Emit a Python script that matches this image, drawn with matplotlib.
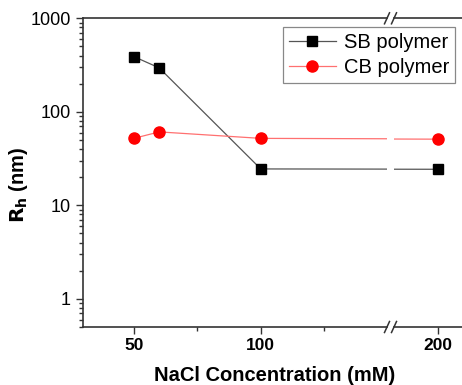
import matplotlib
matplotlib.use("Agg")
import matplotlib.pyplot as plt
from matplotlib.ticker import FixedLocator, LogLocator, NullFormatter, FixedFormatter
from matplotlib.lines import Line2D

plt.rcParams['font.family'] = ['Liberation Sans', 'DejaVu Sans']

# Données
nacl = [50, 60, 100, 200]
sb_rh = [390, 295, 24.5, 24.3]
sb_err = [30, 0, 0, 0]
cb_rh = [52, 61, 52, 51]

x_ticks_left = [50, 100]
x_ticks_right = [200]

W, H = 462, 385
fig = plt.figure(figsize=(W / 100, H / 100), dpi=100)

bottom = (H - 327) / H
height = (327 - 18.3) / H
ax1 = fig.add_axes([83 / W, bottom, (387 - 83) / W, height])
ax2 = fig.add_axes([394 / W, bottom, (W - 394) / W + 0.01, height], sharey=ax1)

sb_style = dict(color='#555555', marker='s', markersize=6.5, markerfacecolor='black',
                markeredgecolor='black', linewidth=0.9)
cb_style = dict(color='#ff7070', marker='o', markersize=8, markerfacecolor='red',
                markeredgecolor='red', linewidth=0.9)

for ax in (ax1, ax2):
    ax.errorbar(nacl, sb_rh, yerr=sb_err, fmt='none', ecolor='#999999', elinewidth=1.5, capsize=0)
    ax.plot(nacl, sb_rh, **sb_style)
    ax.plot(nacl, cb_rh, **cb_style)
    ax.set_yscale('log')
    for s in ax.spines.values():
        s.set_linewidth(1.2)
        s.set_color('#333333')
    ax.tick_params(which='both', direction='out', width=1.0, color='#333333')
    ax.tick_params(which='major', length=5, labelsize=13, pad=4)
    ax.tick_params(which='minor', length=3)
    ax.tick_params(axis='x', pad=3, labelsize=12.5)

ax1.set_xlim(30, 149.7)
ax2.set_xlim(183.9, 210.6)
ax1.set_ylim(0.5, 1000)

# Axe x
ax1.xaxis.set_major_locator(FixedLocator(x_ticks_left))
ax1.xaxis.set_minor_locator(FixedLocator([75, 125]))
ax2.xaxis.set_major_locator(FixedLocator(x_ticks_right))
ax2.xaxis.set_minor_locator(FixedLocator([]))
for ax in (ax1, ax2):
    for lab in ax.get_xticklabels():
        lab.set_fontweight('bold')
    ax.xaxis.set_ticks_position('bottom')

# Axe y
ax1.yaxis.set_major_locator(FixedLocator([1, 10, 100, 1000]))
ax1.yaxis.set_major_formatter(FixedFormatter(['1', '10', '100', '1000']))
ax1.yaxis.set_minor_locator(LogLocator(base=10, subs=range(2, 10)))
ax1.yaxis.set_minor_formatter(NullFormatter())
ax1.spines['right'].set_visible(False)
ax2.spines['left'].set_visible(False)
ax2.spines['right'].set_visible(False)
ax2.tick_params(axis='y', which='both', left=False, labelleft=False)

# Marques de coupure
for ax, xa in ((ax1, 1.0), (ax2, 0.0)):
    dx = 2.5 / ax.bbox.width
    dy = 5.5 / ax.bbox.height
    for ya in (0.0, 1.0):
        ax.plot([xa - dx, xa + dx], [ya - dy, ya + dy], transform=ax.transAxes,
                color='#333333', linewidth=1.1, clip_on=False)

ax1.set_xlabel('NaCl Concentration (mM)', fontsize=14.5, fontweight='bold',
               x=(275 - 83) / (387 - 83), labelpad=9)
ax1.set_ylabel(r'$\mathbf{R_h}$ (nm)', fontsize=14.5, fontweight='bold', labelpad=0, y=0.46)

handles = [Line2D([], [], **sb_style), Line2D([], [], **cb_style)]
labels = ['SB polymer', 'CB polymer']
leg = fig.legend(handles, labels, loc='upper right', bbox_to_anchor=(455 / W, 1 - 27 / H),
                 fontsize=14.5, fancybox=False, framealpha=1, edgecolor='#888888',
                 handlelength=2.3, borderpad=0.3, labelspacing=0.3, handletextpad=0.4,
                 borderaxespad=0)
leg.get_frame().set_linewidth(0.9)

fig.savefig('out.png', dpi=100)
